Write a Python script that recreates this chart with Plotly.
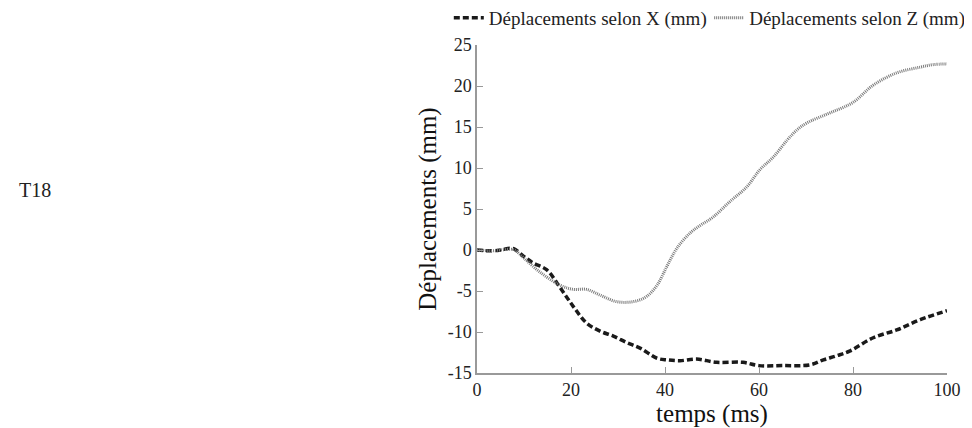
import plotly.graph_objects as go

# temps (ms) and déplacements (mm)
t_x = [0, 3, 5, 7, 8, 10, 12, 14.8, 17.7, 20.5, 23.3, 26.2, 29, 31.9, 34.8, 38.3, 40.5, 43.2,
       46.7, 51, 56.6, 60, 65, 70.9, 73.7, 76.5, 79.4, 84.3, 89.3, 94.3, 100]
dep_x = [0, -0.1, 0, 0.2, 0.1, -0.8, -1.6, -2.4, -4.6, -6.9, -8.9, -9.9, -10.5, -11.3, -12.0,
         -13.2, -13.4, -13.5, -13.3, -13.7, -13.7, -14.1, -14.1, -14.0, -13.4, -12.9, -12.3,
         -10.7, -9.75, -8.5, -7.4]

t_z = [0, 3, 5, 7, 8, 10, 13.4, 17.7, 20.5, 23.3, 26.2, 29.7, 33.2, 36, 38.3, 40.4, 42.5,
       45.4, 47.5, 50.2, 53.8, 57.4, 60.2, 63, 66, 68, 70.2, 75, 80, 84.3, 89.3, 94.3, 97, 100]
dep_z = [0, -0.1, 0, 0.1, 0, -1.0, -2.7, -4.3, -4.8, -4.8, -5.5, -6.3, -6.3, -5.7, -4.3, -2.0,
         0.2, 2.1, 3.0, 4.0, 5.9, 7.7, 9.8, 11.3, 13.4, 14.6, 15.5, 16.7, 18.0, 20.1, 21.6,
         22.3, 22.6, 22.7]

x_ticks = [0, 20, 40, 60, 80, 100]
y_ticks = [-15, -10, -5, 0, 5, 10, 15, 20, 25]

serif = "Liberation Serif"

fig = go.Figure()
fig.add_trace(go.Scatter(x=t_x, y=dep_x, mode="lines", name="Déplacements selon X (mm)",
                         legend="legend",
                         line=dict(color="#1a1a1a", width=3.5, dash="6px,3px", shape="spline")))
fig.add_trace(go.Scatter(x=t_z, y=dep_z, mode="lines", name="Déplacements selon Z (mm)",
                         legend="legend2",
                         line=dict(color="#7a7a7a", width=3, dash="1px,1px", shape="spline")))

fig.add_annotation(text="T18", xref="paper", yref="paper", x=-0.979, y=0.558,
                   xanchor="left", yanchor="middle", showarrow=False,
                   font=dict(family=serif, size=20, color="#222"))

leg_font = dict(family=serif, size=19, color="#222")

# the page body adds an 8px margin, so the figure is 8px smaller on each side
fig.update_layout(
    width=964, height=420,
    margin=dict(l=469, r=25, t=37, b=55, autoexpand=False),
    plot_bgcolor="white", paper_bgcolor="white",
    font=dict(family=serif, color="#222"),
    showlegend=True,
    legend=dict(orientation="h", x=-0.06, y=1.083, xanchor="left", yanchor="middle",
                font=leg_font, bgcolor="rgba(0,0,0,0)"),
    legend2=dict(orientation="h", x=0.494, y=1.083, xanchor="left", yanchor="middle",
                 font=leg_font, bgcolor="rgba(0,0,0,0)"),
)
fig.update_xaxes(range=[0, 100], tickvals=x_ticks, ticktext=[str(v) for v in x_ticks],
                 showgrid=False, zeroline=False, showline=True, linecolor="#999", linewidth=1.5,
                 ticks="inside", ticklen=6, tickcolor="#999",
                 tickfont=dict(family=serif, size=18, color="#222"),
                 title=dict(text="temps (ms)", font=dict(family=serif, size=25, color="#111"), standoff=0))
fig.update_yaxes(range=[-15, 25], tickvals=y_ticks, ticktext=[str(v) for v in y_ticks],
                 showgrid=False, zeroline=False, showline=True, linecolor="#999", linewidth=1.5,
                 ticks="inside", ticklen=6, tickcolor="#999",
                 tickfont=dict(family=serif, size=18, color="#222"),
                 title=dict(text="Déplacements (mm)", font=dict(family=serif, size=25, color="#111"), standoff=4))

fig.write_html("out.html")
